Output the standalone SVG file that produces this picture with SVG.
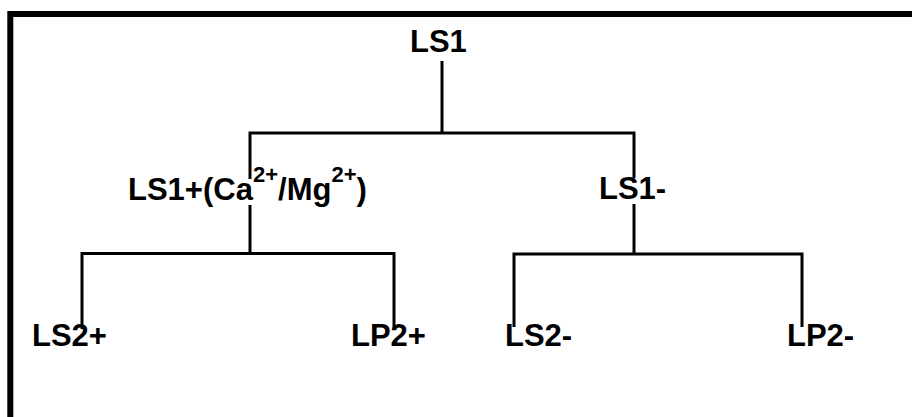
<svg xmlns="http://www.w3.org/2000/svg" width="912" height="417" viewBox="0 0 912 417">
  <style>
    .lbl { font-family: "Liberation Sans", Arial, sans-serif; font-weight: bold; font-size: 31px; fill: #000; }
    .sup { font-size: 22px; }
    .wire { fill: none; stroke: #000; stroke-width: 3; stroke-linejoin: miter; stroke-linecap: butt; }
    .frame { fill: none; stroke: #000; stroke-width: 6; }
  </style>
  <rect width="912" height="417" fill="#fff"/>
  <rect class="frame" x="10.3" y="14" width="1000" height="500"/>
  <g id="connectors">
    <path class="wire" d="M442,61 V133"/>
    <path class="wire" d="M250,179 V133 H634 V178"/>
    <path class="wire" d="M250,205 V253.5"/>
    <path class="wire" d="M82,329 V253.5 H394 V329"/>
    <path class="wire" d="M634,204 V254"/>
    <path class="wire" d="M514,327 V254 H802 V327"/>
  </g>
  <g id="LS1"><text class="lbl" x="410" y="52">LS1</text></g>
  <g id="LS1plus"><text class="lbl" x="128" y="200">LS1+(Ca<tspan class="sup" dy="-18">2+</tspan><tspan dy="18">/Mg</tspan><tspan class="sup" dy="-18">2+</tspan><tspan dy="18">)</tspan></text></g>
  <g id="LS1minus"><text class="lbl" x="599" y="199">LS1-</text></g>
  <g id="LS2plus"><text class="lbl" x="32" y="346">LS2+</text></g>
  <g id="LP2plus"><text class="lbl" x="351" y="346">LP2+</text></g>
  <g id="LS2minus"><text class="lbl" x="505" y="346">LS2-</text></g>
  <g id="LP2minus"><text class="lbl" x="787" y="346">LP2-</text></g>
</svg>
